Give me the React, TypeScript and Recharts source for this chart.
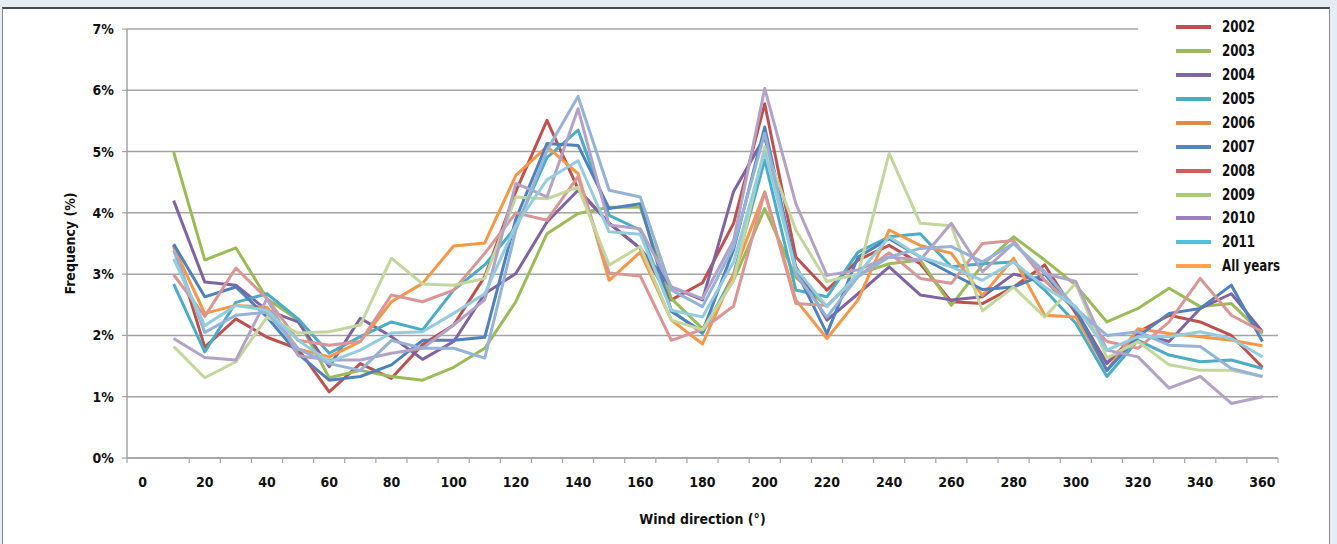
import { LineChart, Line, XAxis, YAxis, CartesianGrid } from 'recharts';

// wind direction categories (degrees)
const ANGLES = [10, 20, 30, 40, 50, 60, 70, 80, 90, 100, 110, 120, 130, 140, 150, 160, 170, 180,
  190, 200, 210, 220, 230, 240, 250, 260, 270, 280, 290, 300, 310, 320, 330, 340, 350, 360];

const X_LABELS = [0, 20, 40, 60, 80, 100, 120, 140, 160, 180, 200, 220, 240, 260, 280, 300, 320, 340, 360];
const Y_TICKS = [0, 1, 2, 3, 4, 5, 6, 7];

// frequency (%) per year
const Y2002 = [3.47, 1.81, 2.27, 1.97, 1.78, 1.08, 1.54, 1.3, 1.85, 2.17, 2.96, 4.35, 5.51, 4.39, 3.83, 3.42, 2.58, 2.86,
  3.83, 5.78, 3.28, 2.74, 3.23, 3.47, 3.17, 2.55, 2.52, 2.79, 3.15, 2.36, 1.55, 2.05, 2.33, 2.22, 2.0, 1.48];
const Y2003 = [4.99, 3.23, 3.43, 2.6, 2.25, 1.31, 1.43, 1.33, 1.27, 1.48, 1.79, 2.55, 3.66, 3.99, 4.09, 4.09, 2.6, 2.11,
  2.9, 4.07, 2.95, 2.47, 3.0, 3.17, 3.23, 2.49, 3.15, 3.61, 3.23, 2.82, 2.22, 2.44, 2.77, 2.47, 2.52, 2.03];
const Y2004 = [4.2, 2.87, 2.82, 2.41, 2.22, 1.49, 2.28, 1.98, 1.61, 1.9, 2.68, 3.01, 3.85, 4.37, 3.83, 3.42, 2.79, 2.58,
  4.35, 5.24, 3.12, 2.25, 2.68, 3.12, 2.66, 2.58, 2.63, 3.0, 2.9, 2.41, 1.54, 2.03, 1.9, 2.44, 2.68, 2.06];
const Y2005 = [2.84, 1.73, 2.54, 2.68, 2.27, 1.71, 1.98, 2.22, 2.09, 2.74, 3.15, 3.77, 4.9, 5.35, 3.96, 3.72, 2.41, 2.03,
  3.0, 4.86, 2.74, 2.63, 3.36, 3.61, 3.66, 3.12, 3.17, 3.2, 2.74, 2.2, 1.33, 1.92, 1.68, 1.57, 1.6, 1.46];
const Y2006 = [3.44, 2.36, 2.49, 2.46, 1.78, 1.65, 1.9, 2.55, 2.85, 3.46, 3.51, 4.61, 5.08, 4.64, 2.9, 3.36, 2.25, 1.86,
  3.0, 4.34, 2.58, 1.95, 2.58, 3.72, 3.47, 3.34, 2.65, 3.26, 2.33, 2.3, 1.43, 2.11, 2.03, 1.98, 1.92, 1.83];
const Y2007 = [3.49, 2.63, 2.79, 2.3, 1.7, 1.27, 1.33, 1.52, 1.92, 1.92, 1.97, 3.9, 5.13, 5.1, 4.07, 4.15, 2.39, 2.06,
  3.4, 5.4, 3.07, 2.03, 3.28, 3.58, 3.28, 3.01, 2.75, 2.79, 3.0, 2.4, 1.43, 1.98, 2.36, 2.44, 2.82, 1.9];
const Y2008 = [2.99, 2.31, 3.1, 2.6, 1.92, 1.84, 1.9, 2.66, 2.55, 2.74, 3.34, 4.0, 3.88, 4.59, 3.02, 2.97, 1.92, 2.1,
  2.48, 4.34, 2.52, 2.49, 2.96, 3.35, 2.93, 2.85, 3.5, 3.55, 2.9, 2.44, 1.9, 1.79, 2.22, 2.93, 2.33, 2.06];
const Y2009 = [1.82, 1.31, 1.57, 2.3, 2.04, 2.06, 2.17, 3.26, 2.84, 2.82, 2.93, 4.26, 4.23, 4.42, 3.15, 3.45, 2.25, 2.09,
  2.9, 5.08, 3.72, 2.88, 3.0, 4.97, 3.83, 3.79, 2.4, 2.79, 2.3, 2.85, 1.63, 1.9, 1.52, 1.43, 1.43, 1.33];
const Y2010 = [1.95, 1.64, 1.6, 2.6, 1.67, 1.6, 1.6, 1.71, 1.79, 2.17, 2.58, 4.48, 4.26, 5.7, 3.8, 3.74, 2.79, 2.6,
  3.55, 6.03, 4.15, 2.98, 3.07, 3.28, 3.23, 3.83, 3.04, 3.5, 3.01, 2.88, 1.76, 1.65, 1.14, 1.33, 0.89, 1.0];
const Y2011 = [3.39, 2.05, 2.33, 2.38, 1.78, 1.54, 1.43, 1.92, 1.79, 1.79, 1.63, 3.72, 5.02, 5.9, 4.37, 4.26, 2.74, 2.47,
  3.45, 5.3, 3.01, 2.3, 2.96, 3.28, 3.42, 3.45, 3.2, 3.5, 3.04, 2.44, 2.0, 2.06, 1.84, 1.82, 1.46, 1.33];
const ALL_YEARS = [3.25, 2.16, 2.49, 2.41, 1.92, 1.57, 1.76, 2.04, 2.06, 2.36, 2.68, 3.8, 4.54, 4.85, 3.69, 3.65, 2.41, 2.3,
  3.2, 5.0, 3.09, 2.47, 3.0, 3.61, 3.28, 3.12, 2.9, 3.2, 2.79, 2.47, 1.76, 1.98, 1.98, 2.06, 1.95, 1.65];

const SERIES = [
  { key: 'y2002', name: '2002', values: Y2002, stroke: '#C0504D', legend: '#C0504D' },
  { key: 'y2003', name: '2003', values: Y2003, stroke: '#9BBB59', legend: '#9BBB59' },
  { key: 'y2004', name: '2004', values: Y2004, stroke: '#8064A2', legend: '#8064A2' },
  { key: 'y2005', name: '2005', values: Y2005, stroke: '#4BACC6', legend: '#4BACC6' },
  { key: 'y2006', name: '2006', values: Y2006, stroke: '#F79646', legend: '#E08B4A' },
  { key: 'y2007', name: '2007', values: Y2007, stroke: '#4F81BD', legend: '#4F86C6' },
  { key: 'y2008', name: '2008', values: Y2008, stroke: '#D99694', legend: '#D0605B' },
  { key: 'y2009', name: '2009', values: Y2009, stroke: '#C3D69B', legend: '#A9CD6C' },
  { key: 'y2010', name: '2010', values: Y2010, stroke: '#B3A2C7', legend: '#9C80C6' },
  { key: 'y2011', name: '2011', values: Y2011, stroke: '#95B3D7', legend: '#4FC1DF' },
  { key: 'all', name: 'All years', values: ALL_YEARS, stroke: '#93CDDD', legend: '#FFA24D' },
];

const data = ANGLES.map((angle, i) => {
  const row: Record<string, number> = { angle };
  SERIES.forEach((s) => { row[s.key] = s.values[i]; });
  return row;
});

// tick marks sit between categories, like the original
const X_BOUNDS = [-5, ...ANGLES.map((a) => a + 5)];

const W = 1337;
const H = 544;
const MARGIN = { top: 29, right: 59, left: 67, bottom: 16 };
const PLOT_W = W - MARGIN.left - 60 - MARGIN.right;
const HALF_BAND = (PLOT_W / 370) * 5;

const FONT = "'Liberation Sans Narrow', 'DejaVu Sans Condensed', 'Arial Narrow', sans-serif";
const GRID = '#a3a3a3';

const XTick = ({ x, y, payload }: any) => {
  const label = payload.value + 5;
  if (!X_LABELS.includes(label)) return <g />;
  return (
    <text x={x + HALF_BAND} y={y} dy="0.71em" textAnchor="middle" fontFamily={FONT} fontSize={14} fontWeight="bold" fill="#111">
      {label}
    </text>
  );
};

export default function App() {
  return (
    <div style={{ position: 'absolute', left: 0, top: 0, width: W, height: H, background: '#E4ECF4', overflow: 'hidden' }}>
      <div style={{ position: 'absolute', left: 2, top: 7, width: 1326, height: 540, background: '#fff', borderTop: '2px solid #4a4a4a', borderLeft: '1px solid #8a8a8a', borderRight: '1px solid #8a8a8a' }} />
      <div style={{ position: 'absolute', left: 0, top: 0 }}>
        <LineChart width={W} height={H} data={data} margin={MARGIN}>
          <CartesianGrid vertical={false} stroke={GRID} strokeWidth={1.5} />
          <XAxis
            dataKey="angle"
            type="number"
            domain={[-5, 365]}
            ticks={X_BOUNDS}
            interval={0}
            height={70}
            tickSize={5}
            tickMargin={14}
            tick={<XTick />}
            axisLine={{ stroke: GRID, strokeWidth: 1.5 }}
            tickLine={{ stroke: GRID, strokeWidth: 1.2 }}
            label={{ value: 'Wind direction (°)', position: 'insideBottom', offset: 4, style: { fontFamily: FONT, fontSize: 14, fontWeight: 'bold', fill: '#111' } }}
          />
          <YAxis
            domain={[0, 7]}
            ticks={Y_TICKS}
            width={60}
            tickSize={5}
            tickMargin={8}
            tickFormatter={(v: number) => `${v}%`}
            tick={{ fontFamily: FONT, fontSize: 14, fontWeight: 'bold', fill: '#111' }}
            axisLine={{ stroke: GRID, strokeWidth: 1.5 }}
            tickLine={{ stroke: GRID, strokeWidth: 1.2 }}
            label={{ value: 'Frequency (%)', angle: -90, position: 'insideLeft', offset: 3, style: { textAnchor: 'middle', fontFamily: FONT, fontSize: 14, fontWeight: 'bold', fill: '#111' } }}
          />
          {SERIES.map((s) => (
            <Line
              key={s.key}
              dataKey={s.key}
              name={s.name}
              type="linear"
              stroke={s.stroke}
              strokeWidth={3}
              strokeLinejoin="round"
              dot={false}
              activeDot={false}
              isAnimationActive={false}
            />
          ))}
        </LineChart>
      </div>
      <div style={{ position: 'absolute', left: 1138, top: 13, width: 150, height: 263, background: '#fff', fontFamily: FONT }}>
        <div style={{ paddingTop: 2.4 }}>
          {SERIES.map((s) => (
            <div key={s.key} style={{ height: 23.9, display: 'flex', alignItems: 'center', whiteSpace: 'nowrap' }}>
              <div style={{ marginLeft: 38, width: 35, height: 4, background: s.legend, flex: 'none' }} />
              <span style={{ marginLeft: 11, fontSize: 15, fontWeight: 'bold', color: '#111', display: 'inline-block', transform: 'scaleX(0.88)', transformOrigin: 'left center' }}>{s.name}</span>
            </div>
          ))}
        </div>
      </div>
    </div>
  );
}
